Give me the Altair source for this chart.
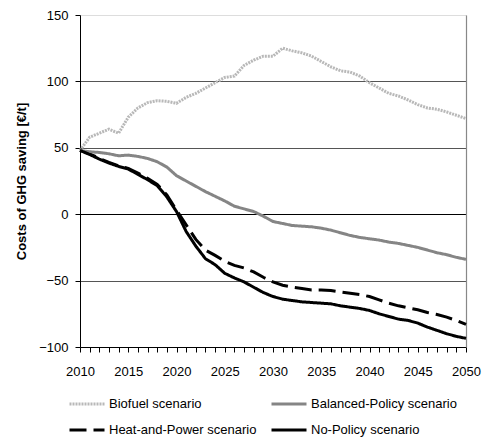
import altair as alt
import pandas as pd

# Years covered by the scenarios
years = list(range(2010, 2051))

# Costs of GHG saving per scenario [€/t]
biofuel = [48, 58, 61, 64, 61, 73, 80, 84, 85.5, 85, 83.5, 88, 91, 95, 99, 103, 104,
           112, 116, 119, 119, 125, 123, 121.5, 119, 115, 111, 108, 107, 104, 99,
           95, 91, 89, 86, 82.5, 80, 79, 77, 74.5, 72]
balanced = [48, 47, 46.5, 45.5, 44, 44.5, 43.5, 42, 39.5, 35.5, 29, 25, 21, 17, 13.5,
            10, 6, 4, 2, -1.5, -5.5, -7, -8.5, -9, -9.5, -10.5, -12, -14, -16, -17.5,
            -18.5, -19.5, -21, -22, -23.5, -25, -27, -29, -30.5, -32.5, -34]
heat_power = [48, 45.5, 42, 39, 36.5, 34.5, 31, 27, 22.5, 14.5, 3, -8, -19, -27, -31,
              -35.5, -38.5, -40.5, -43.5, -47.5, -51, -53.5, -55, -56, -57, -57, -57.5,
              -58.5, -59.5, -60.5, -62, -64.5, -67, -69, -70.5, -72, -74, -75.5, -77.5,
              -80, -83]
no_policy = [48, 45, 41.5, 38.5, 36, 34, 30, 26, 21.5, 13, 2, -13, -24, -33.5, -38,
             -44.5, -48, -51, -55, -59, -62, -64, -65, -66, -66.5, -67, -67.5, -69, -70,
             -71, -72.5, -75, -77, -79, -80, -82, -85, -87.5, -90, -92, -93.5]

# Legend order (filled column by column: two rows per column)
scenarios = ["Biofuel scenario", "Heat-and-Power scenario",
             "Balanced-Policy scenario", "No-Policy scenario"]
series = [biofuel, heat_power, balanced, no_policy]
line_colors = ["#b8b8b8", "black", "#858585", "black"]
line_dashes = [[2, 1], [17, 7], [1, 0], [1, 0]]
line_widths = [3, 3, 3, 2.5]

y_ticks = [-100, -50, 0, 50, 100, 150]

rows = []
for name, vals in zip(scenarios, series):
    for yr, v in zip(years, vals):
        rows.append({"year": yr, "cost": v, "scenario": name})
df = pd.DataFrame(rows)

FONT = "Liberation Sans"

legend = alt.Legend(
    title=None, orient="none", legendX=-12, legendY=370, columns=2,
    columnPadding=8, rowPadding=-14, symbolType="stroke", symbolSize=1225,
    labelFontSize=13, labelFont=FONT, labelColor="black", labelOffset=3,
    padding=0,
)

x_scale = alt.Scale(domain=[2010, 2050], nice=False, zero=False)
y_scale = alt.Scale(domain=[-100, 150], nice=False)
x_axis = alt.Axis(values=years, format="d",
                  labelExpr="datum.value % 5 === 0 ? datum.label : ''",
                  labelOverlap=False, grid=False, tickSize=5, tickColor="black",
                  domainColor="black", labelFontSize=13, labelFont=FONT,
                  labelColor="black", labelPadding=13, title=None, labelFlush=False)

lines = alt.Chart(df).mark_line(strokeCap="butt").encode(
    x=alt.X("year:Q", scale=x_scale, axis=x_axis),
    y=alt.Y("cost:Q", scale=y_scale,
            axis=alt.Axis(values=y_ticks, tickSize=5, tickColor="black",
                          domainColor="black", labelFontSize=13, labelFont=FONT,
                          labelColor="black", labelPadding=7,
                          title="Costs of GHG saving [€/t]", titleFontSize=13,
                          titleFont=FONT, titleFontWeight="bold", titleColor="black",
                          titlePadding=10,
                          gridColor=alt.condition("datum.value === 0",
                                                  alt.value("black"), alt.value("#555555")),
                          gridOpacity=alt.condition("datum.value === 150",
                                                    alt.value(0), alt.value(1)),
                          gridWidth=1.2)),
    color=alt.Color("scenario:N", sort=scenarios,
                    scale=alt.Scale(domain=scenarios, range=line_colors),
                    legend=legend),
    strokeDash=alt.StrokeDash("scenario:N", sort=scenarios,
                              scale=alt.Scale(domain=scenarios, range=line_dashes),
                              legend=legend),
    strokeWidth=alt.StrokeWidth("scenario:N", sort=scenarios,
                                scale=alt.Scale(domain=scenarios, range=line_widths),
                                legend=legend),
)

# Right-hand frame edge of the plot area
right_edge = alt.Chart(df).mark_line(opacity=0).encode(
    x=alt.X("year:Q", scale=x_scale, axis=x_axis),
    y=alt.Y("cost:Q", scale=y_scale,
            axis=alt.Axis(orient="right", labels=False, ticks=False, grid=False,
                          title=None, domainColor="#888888", domainWidth=1.2)),
)

chart = alt.layer(lines, right_edge).resolve_axis(y="independent").properties(
    width=386, height=332,
    autosize=alt.AutoSizeParams(type="none"),
    padding={"left": 80, "top": 15, "right": 18, "bottom": 90},
).configure_view(stroke=None).configure(background="white")

chart.save("out.html", embed_options={"renderer": "svg", "actions": False})
